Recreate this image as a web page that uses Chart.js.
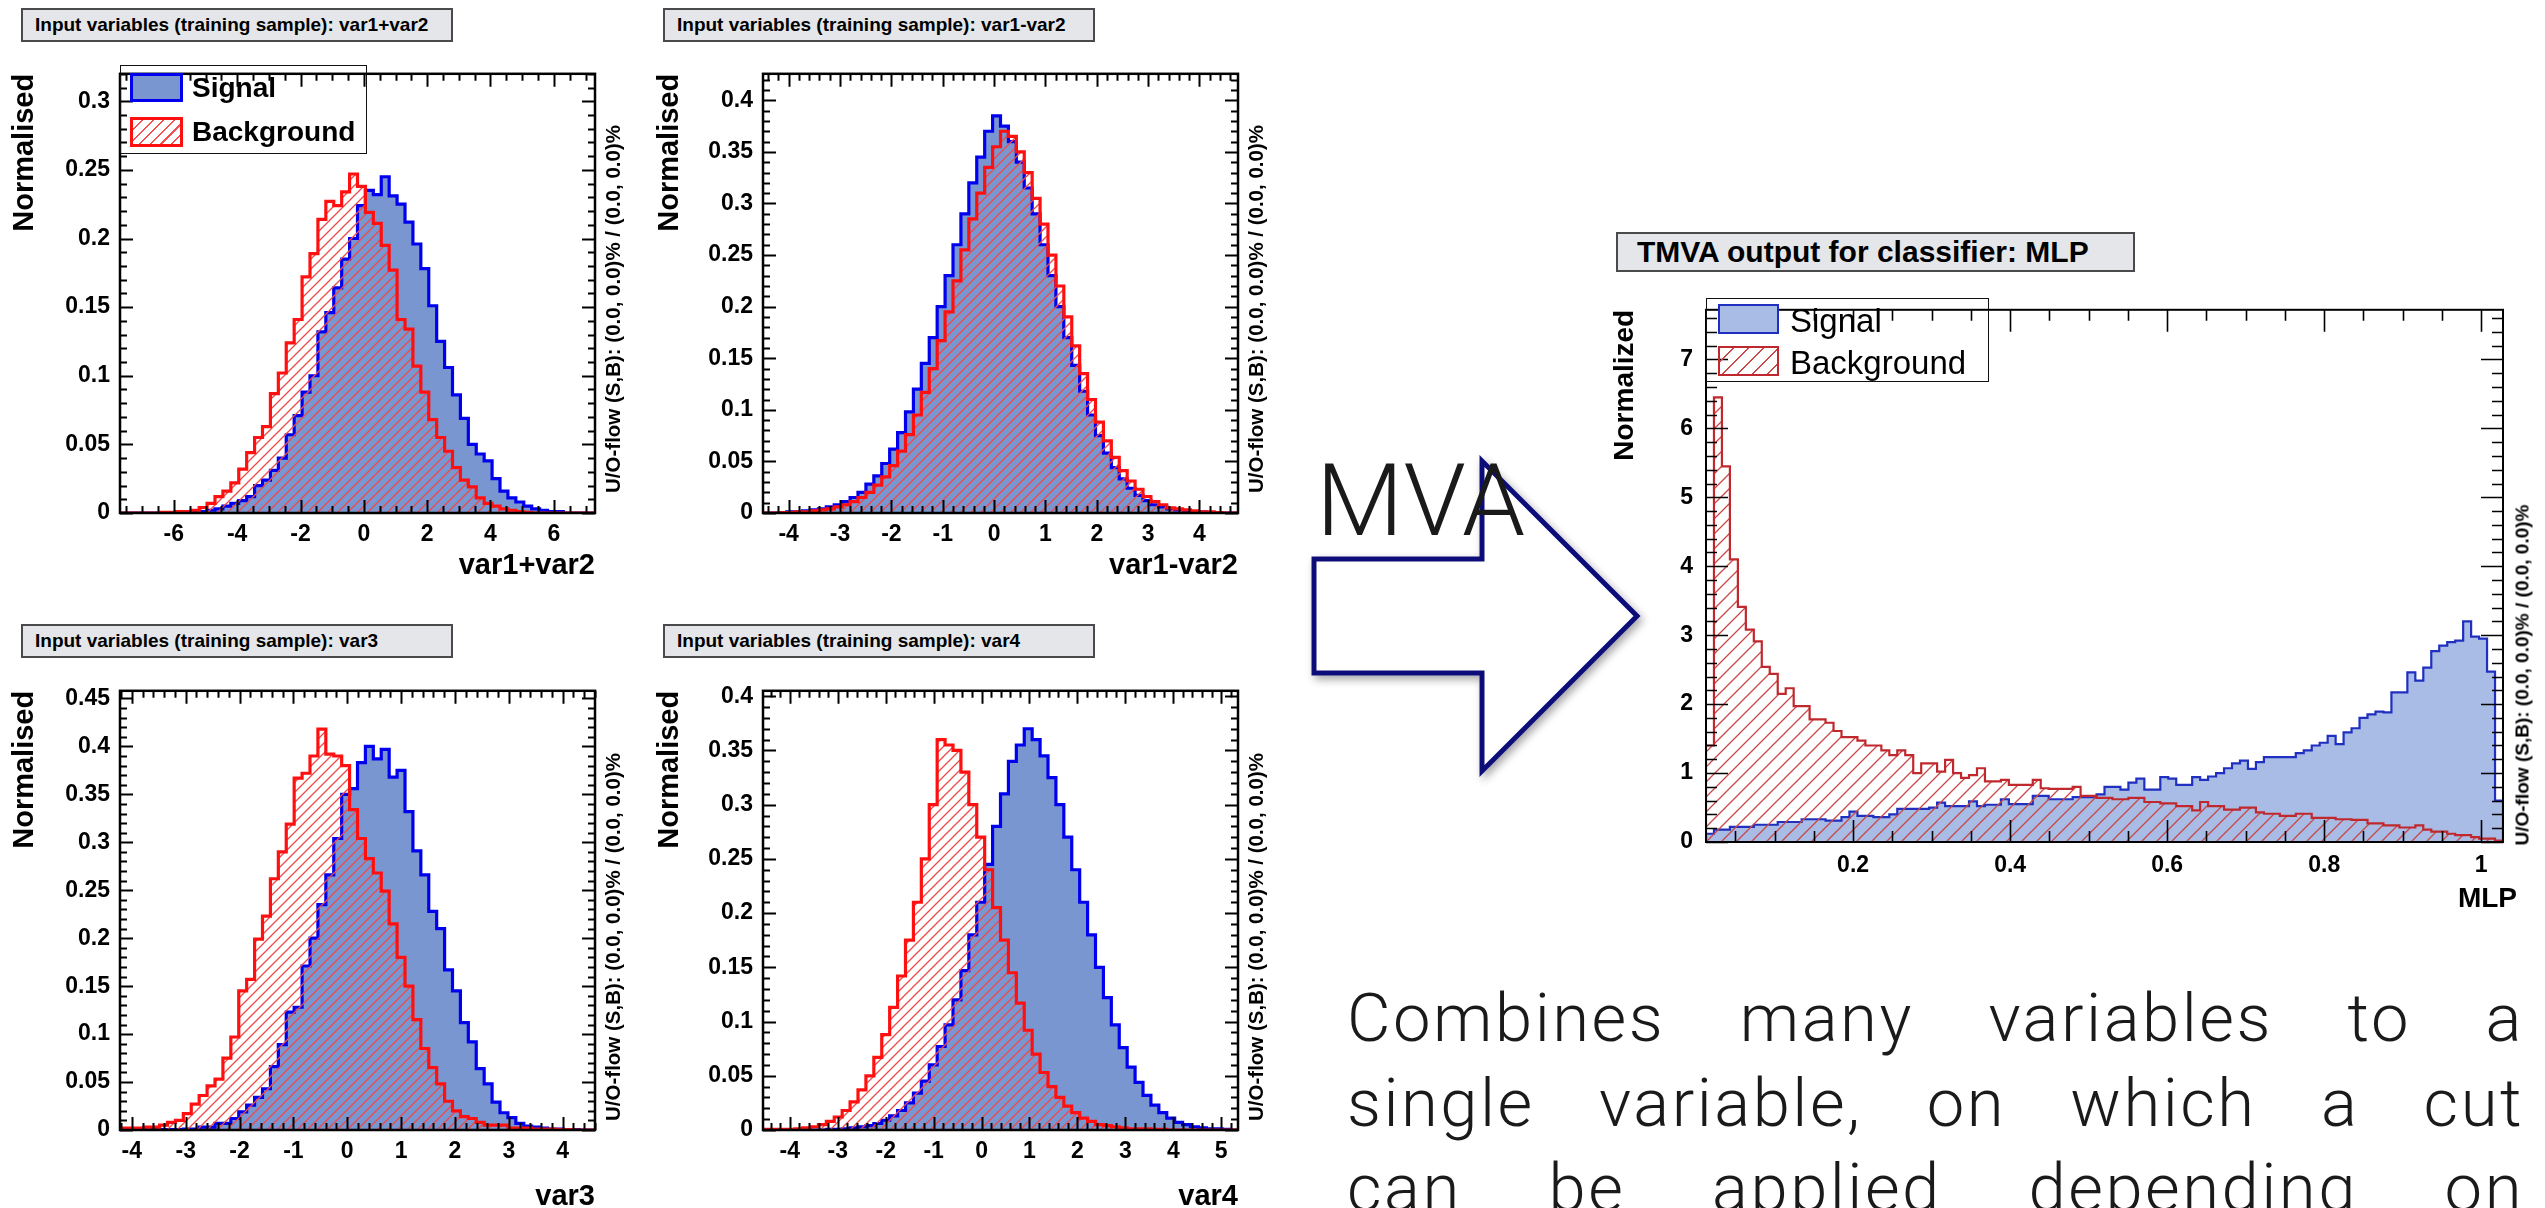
<!DOCTYPE html>
<html><head><meta charset="utf-8">
<script src="https://cdn.jsdelivr.net/npm/chart.js@4.4.1/dist/chart.umd.min.js"></script>
<style>
html,body{margin:0;padding:0;background:#fff;}
#stage{position:relative;width:2545px;height:1208px;overflow:hidden;background:#fff;font-family:'Liberation Sans',Arial,Helvetica,sans-serif;}
canvas{position:absolute;}
.tbox{position:absolute;box-sizing:border-box;background:#e4e6ea;border:2px solid #4a4a4a;font-weight:bold;color:#000;white-space:nowrap;display:flex;align-items:center;}
.leg{position:absolute;box-sizing:border-box;border:1.5px solid #111;}
.sw{position:absolute;box-sizing:border-box;}
.lt{position:absolute;white-space:nowrap;color:#000;line-height:1;}
.rot{position:absolute;white-space:nowrap;font-weight:bold;color:#000;line-height:1;transform-origin:0 0;transform:rotate(-90deg) translate(-50%,-50%);}
.big{position:absolute;white-space:nowrap;color:#1a1a1a;font-family:'Roboto','Lato','Open Sans',sans-serif;font-weight:300;line-height:1;}
.body{position:absolute;left:1347px;width:1177px;color:#1a1a1a;font-family:'Roboto','Lato','Open Sans',sans-serif;font-weight:300;font-size:67px;letter-spacing:2.5px;line-height:1;text-align:justify;text-align-last:justify;white-space:nowrap;}
</style></head>
<body>
<div id="stage">
  <div class="tbox" style="left:21px;top:8px;width:432px;height:34px;font-size:19px;padding-left:12px;">Input variables (training sample): var1+var2</div>
  <div class="tbox" style="left:663px;top:8px;width:432px;height:34px;font-size:19px;padding-left:12px;">Input variables (training sample): var1-var2</div>
  <div class="tbox" style="left:21px;top:624px;width:432px;height:34px;font-size:19px;padding-left:12px;">Input variables (training sample): var3</div>
  <div class="tbox" style="left:663px;top:624px;width:432px;height:34px;font-size:19px;padding-left:12px;">Input variables (training sample): var4</div>
  <div class="tbox" style="left:1616px;top:232px;width:519px;height:40px;font-size:30px;padding-left:19px;">TMVA output for classifier: MLP</div>

  <canvas id="c1" width="640" height="560" style="left:0px;top:50px"></canvas>
  <canvas id="c2" width="640" height="560" style="left:643px;top:50px"></canvas>
  <canvas id="c3" width="640" height="560" style="left:0px;top:667px"></canvas>
  <canvas id="c4" width="640" height="560" style="left:643px;top:667px"></canvas>
  <canvas id="c5" width="985" height="680" style="left:1560px;top:283px"></canvas>

  <div class="rot" style="left:613px;top:309px;font-size:20.5px;">U/O-flow (S,B): (0.0, 0.0)% / (0.0, 0.0)%</div>
  <div class="rot" style="left:1256px;top:309px;font-size:20.5px;">U/O-flow (S,B): (0.0, 0.0)% / (0.0, 0.0)%</div>
  <div class="rot" style="left:613px;top:937px;font-size:20.5px;">U/O-flow (S,B): (0.0, 0.0)% / (0.0, 0.0)%</div>
  <div class="rot" style="left:1256px;top:937px;font-size:20.5px;">U/O-flow (S,B): (0.0, 0.0)% / (0.0, 0.0)%</div>
  <div class="rot" style="left:2522px;top:675px;font-size:19px;">U/O-flow (S,B): (0.0, 0.0)% / (0.0, 0.0)%</div>

  <!-- MLP x-axis title -->
  <div class="lt" style="right:28px;top:884px;font-size:28px;font-weight:bold;">MLP</div>

  <!-- legend panel 1 -->
  <div class="leg" style="left:120px;top:65px;width:247px;height:89px;"></div>
  <div class="sw" style="left:130px;top:73px;width:53px;height:29px;background:#7a96d0;border:3px solid #0000ee;"></div>
  <div class="sw" style="left:130px;top:117px;width:53px;height:30px;border:3px solid #ff1010;background:repeating-linear-gradient(135deg,transparent 0 6px,#f05050 6px 7.5px);"></div>
  <div class="lt" style="left:192px;top:74px;font-size:28px;font-weight:bold;">Signal</div>
  <div class="lt" style="left:192px;top:118px;font-size:28px;font-weight:bold;">Background</div>

  <!-- legend MLP -->
  <div class="leg" style="left:1706px;top:298px;width:283px;height:84px;"></div>
  <div class="sw" style="left:1718px;top:304px;width:61px;height:30px;background:#a8bce6;border:2px solid #1f2fc0;"></div>
  <div class="sw" style="left:1718px;top:346px;width:61px;height:30px;border:2px solid #c0282d;background:repeating-linear-gradient(135deg,transparent 0 9px,#c84848 9px 10.5px);"></div>
  <div class="lt" style="left:1790px;top:304px;font-size:33px;">Signal</div>
  <div class="lt" style="left:1790px;top:346px;font-size:33px;">Background</div>

  <svg style="position:absolute;left:0;top:0;pointer-events:none" width="2545" height="1208">
    <defs><filter id="sh" x="-20%" y="-20%" width="140%" height="140%"><feDropShadow dx="3" dy="4" stdDeviation="4" flood-color="#000" flood-opacity="0.35"/></filter></defs>
    <polygon points="1314,559 1482,559 1482,461 1637,616 1482,771 1482,673 1314,673" fill="#fff" stroke="#10107a" stroke-width="5" stroke-linejoin="miter" filter="url(#sh)"/>
  </svg>
  <div class="big" style="left:1316px;top:450px;font-size:101px;">MVA</div>

  <div class="body" style="top:985px;">Combines many variables to a</div>
  <div class="body" style="top:1070px;">single variable, on which a cut</div>
  <div class="body" style="top:1155px;">can be applied depending on</div>
</div>

<script>
// ================= DATA =================
const var12pRange = [-7.7, 7.3];
const var12pSignal = [
 0,0,0,0,0,0,0,0,0.0005,0.0005,
 0.001,0.002,0.003,0.005,0.007,0.009,0.012,0.020,0.024,0.031,
 0.040,0.057,0.071,0.088,0.100,0.132,0.146,0.164,0.185,0.200,
 0.224,0.235,0.232,0.245,0.231,0.225,0.212,0.196,0.178,0.151,
 0.125,0.106,0.086,0.069,0.050,0.043,0.038,0.025,0.016,0.011,
 0.008,0.005,0.003,0.002,0.001,0.001,0,0,0,0];
const var12pBackground = [
 0,0,0,0,0,0.0005,0.0005,0.001,0.001,0.002,
 0.004,0.007,0.012,0.016,0.022,0.032,0.044,0.055,0.063,0.087,
 0.102,0.124,0.141,0.172,0.189,0.214,0.227,0.224,0.234,0.247,
 0.238,0.219,0.211,0.195,0.177,0.141,0.134,0.107,0.088,0.068,
 0.055,0.045,0.033,0.024,0.019,0.011,0.007,0.005,0.003,0.002,
 0.001,0.0005,0,0,0,0,0,0,0,0];
const var12pXTicks = [-6,-4,-2,0,2,4,6];
const var12pXLabels = ['-6','-4','-2','0','2','4','6'];
const var12pYTicks = [0,0.05,0.1,0.15,0.2,0.25,0.3];
const var12pYLabels = ['0','0.05','0.1','0.15','0.2','0.25','0.3'];

const var12mRange = [-4.5, 4.75];
const var12mSignal = [
 0,0,0.0005,0.001,0.001,0.002,0.003,0.004,0.006,0.008,
 0.011,0.015,0.020,0.028,0.036,0.048,0.062,0.078,0.098,0.120,
 0.145,0.170,0.200,0.230,0.260,0.290,0.320,0.345,0.370,0.385,
 0.375,0.360,0.340,0.315,0.290,0.260,0.230,0.200,0.170,0.143,
 0.118,0.095,0.075,0.058,0.044,0.033,0.024,0.017,0.012,0.008,
 0.006,0.004,0.003,0.002,0.001,0.001,0.0005,0,0,0];
const var12mBackground = [
 0,0,0.0005,0.0005,0.001,0.001,0.002,0.003,0.004,0.006,
 0.008,0.011,0.015,0.020,0.027,0.035,0.046,0.060,0.076,0.095,
 0.117,0.140,0.167,0.195,0.225,0.255,0.285,0.310,0.335,0.355,
 0.370,0.365,0.350,0.330,0.305,0.280,0.250,0.220,0.190,0.162,
 0.135,0.110,0.088,0.070,0.054,0.041,0.031,0.023,0.016,0.011,
 0.008,0.005,0.004,0.003,0.002,0.001,0.001,0.0005,0,0];
const var12mXTicks = [-4,-3,-2,-1,0,1,2,3,4];
const var12mXLabels = ['-4','-3','-2','-1','0','1','2','3','4'];
const var12mYTicks = [0,0.05,0.1,0.15,0.2,0.25,0.3,0.35,0.4];
const var12mYLabels = ['0','0.05','0.1','0.15','0.2','0.25','0.3','0.35','0.4'];

const var3Range = [-4.22, 4.6];
const var3Signal = [
 0,0,0,0.0005,0.0005,0.0005,0.0005,0.0005,0.001,0.001,
 0.003,0.003,0.007,0.007,0.012,0.019,0.026,0.034,0.043,0.066,
 0.089,0.123,0.128,0.171,0.200,0.235,0.266,0.304,0.350,0.356,
 0.383,0.400,0.387,0.397,0.368,0.375,0.332,0.291,0.266,0.228,
 0.210,0.167,0.145,0.112,0.092,0.064,0.048,0.029,0.018,0.013,
 0.007,0.004,0.003,0.002,0.001,0.001,0.0005,0.0005,0,0];
const var3Background = [
 0.002,0.002,0.002,0.003,0.003,0.005,0.008,0.010,0.017,0.027,
 0.036,0.046,0.053,0.075,0.097,0.145,0.157,0.199,0.223,0.262,
 0.290,0.319,0.367,0.372,0.390,0.418,0.392,0.390,0.380,0.334,
 0.304,0.283,0.268,0.249,0.215,0.180,0.150,0.115,0.085,0.065,
 0.048,0.030,0.020,0.014,0.012,0.008,0.005,0.005,0.005,0.002,
 0.002,0.002,0.001,0.001,0.001,0.0005,0.0005,0,0,0];
const var3XTicks = [-4,-3,-2,-1,0,1,2,3,4];
const var3XLabels = ['-4','-3','-2','-1','0','1','2','3','4'];
const var3YTicks = [0,0.05,0.1,0.15,0.2,0.25,0.3,0.35,0.4,0.45];
const var3YLabels = ['0','0.05','0.1','0.15','0.2','0.25','0.3','0.35','0.4','0.45'];

const var4Range = [-4.56, 5.35];
const var4Signal = [
 0,0,0,0,0,0,0,0,0.0005,0.0005,
 0.001,0.002,0.003,0.004,0.006,0.009,0.013,0.018,0.025,0.034,
 0.045,0.060,0.077,0.097,0.120,0.147,0.180,0.210,0.245,0.280,
 0.310,0.340,0.355,0.370,0.360,0.345,0.325,0.300,0.270,0.240,
 0.210,0.180,0.150,0.122,0.097,0.076,0.058,0.044,0.032,0.023,
 0.016,0.011,0.007,0.005,0.003,0.002,0.001,0.001,0.0005,0];
const var4Background = [
 0.0005,0.0005,0.0005,0.0005,0.001,0.002,0.003,0.005,0.008,0.012,
 0.018,0.026,0.037,0.050,0.067,0.088,0.113,0.142,0.175,0.210,
 0.250,0.300,0.360,0.355,0.350,0.330,0.300,0.270,0.240,0.205,
 0.175,0.145,0.117,0.092,0.070,0.053,0.040,0.030,0.022,0.016,
 0.011,0.008,0.005,0.004,0.003,0.002,0.001,0.001,0.001,0.0005,
 0.0005,0,0,0,0,0,0,0,0,0];
const var4XTicks = [-4,-3,-2,-1,0,1,2,3,4,5];
const var4XLabels = ['-4','-3','-2','-1','0','1','2','3','4','5'];
const var4YTicks = [0,0.05,0.1,0.15,0.2,0.25,0.3,0.35,0.4];
const var4YLabels = ['0','0.05','0.1','0.15','0.2','0.25','0.3','0.35','0.4'];

const mlpRange = [0.0127, 1.0277];
const mlpSignal = [
 0.12,0.18,0.18,0.22,0.22,0.22,0.25,0.25,0.25,0.29,
 0.29,0.29,0.33,0.33,0.33,0.31,0.31,0.36,0.44,0.38,
 0.38,0.36,0.36,0.40,0.48,0.48,0.48,0.48,0.50,0.57,
 0.52,0.52,0.52,0.59,0.52,0.54,0.54,0.62,0.55,0.55,
 0.55,0.67,0.67,0.62,0.62,0.62,0.65,0.65,0.65,0.69,
 0.80,0.80,0.76,0.86,0.92,0.76,0.76,0.94,0.92,0.83,
 0.83,0.94,0.90,0.95,1.00,1.07,1.14,1.18,1.06,1.16,
 1.23,1.23,1.23,1.23,1.29,1.33,1.40,1.44,1.54,1.42,
 1.59,1.65,1.80,1.85,1.89,1.88,2.17,2.17,2.46,2.34,
 2.53,2.77,2.85,2.90,2.92,3.20,2.98,2.95,2.47,0.60];
const mlpBackground = [
 1.40,6.45,5.45,4.10,3.41,3.08,2.91,2.54,2.44,2.15,
 2.23,1.97,1.97,1.78,1.78,1.73,1.61,1.52,1.52,1.47,
 1.40,1.40,1.33,1.26,1.33,1.26,1.00,1.14,1.14,1.02,
 1.19,1.00,0.93,0.97,1.07,0.88,0.88,0.90,0.83,0.83,
 0.83,0.90,0.78,0.77,0.77,0.77,0.80,0.67,0.67,0.64,
 0.64,0.62,0.62,0.64,0.64,0.58,0.58,0.56,0.56,0.52,
 0.52,0.46,0.58,0.52,0.52,0.47,0.47,0.50,0.50,0.43,
 0.41,0.41,0.38,0.38,0.41,0.41,0.35,0.35,0.35,0.33,
 0.33,0.32,0.32,0.27,0.27,0.24,0.24,0.21,0.21,0.24,
 0.18,0.15,0.15,0.12,0.10,0.10,0.07,0.05,0.05,0.02];
const mlpXTicks = [0.2,0.4,0.6,0.8,1];
const mlpXLabels = ['0.2','0.4','0.6','0.8','1'];
const mlpYTicks = [0,1,2,3,4,5,6,7];
const mlpYLabels = ['0','1','2','3','4','5','6','7'];

// ================= RENDERING =================
const FONT = "'Liberation Sans', Arial, Helvetica, sans-serif";

function histPoints(range, vals) {
  const n = vals.length, w = (range[1] - range[0]) / n;
  const pts = [{x: range[0], y: 0}];
  vals.forEach((v, i) => pts.push({x: range[0] + i * w, y: v}));
  pts.push({x: range[1], y: vals[n - 1]});
  pts.push({x: range[1], y: 0});
  return pts;
}

function hatch(ctx, color, step, lw) {
  const c = document.createElement('canvas');
  c.width = step; c.height = step;
  const g = c.getContext('2d');
  g.strokeStyle = color; g.lineWidth = lw;
  g.beginPath();
  g.moveTo(-step, 2 * step); g.lineTo(2 * step, -step);
  g.moveTo(-step, step); g.lineTo(step, -step);
  g.moveTo(0, 2 * step); g.lineTo(2 * step, 0);
  g.stroke();
  return ctx.createPattern(c, 'repeat');
}

const rootFrame = {
  id: 'rootFrame',
  afterDatasetsDraw(chart) {
    const o = chart.options.plugins.rootFrame;
    const {ctx, chartArea: a, scales: {x, y}} = chart;
    const isMul = (v, s) => Math.abs(v / s - Math.round(v / s)) < 1e-6;
    const each = (min, max, step, fn) => {
      const n0 = Math.ceil(min / step - 1e-9), n1 = Math.floor(max / step + 1e-9);
      for (let n = n0; n <= n1; n++) fn(n * step);
    };
    ctx.save();
    ctx.strokeStyle = '#000';
    ctx.lineWidth = o.tickW;
    ctx.beginPath();
    each(x.min, x.max, o.xMinor, v => {
      const p = Math.round(x.getPixelForValue(v)) + 0.5;
      const L = isMul(v, o.xMajor) ? o.majorLen : o.minorLen;
      ctx.moveTo(p, a.bottom); ctx.lineTo(p, a.bottom - L);
      ctx.moveTo(p, a.top); ctx.lineTo(p, a.top + L);
    });
    each(y.min, y.max, o.yMinor, v => {
      const p = Math.round(y.getPixelForValue(v)) + 0.5;
      const L = isMul(v, o.yMajor) ? o.majorLen : o.minorLen;
      ctx.moveTo(a.left, p); ctx.lineTo(a.left + L, p);
      ctx.moveTo(a.right, p); ctx.lineTo(a.right - L, p);
    });
    ctx.stroke();
    ctx.lineWidth = o.frameW;
    ctx.strokeRect(a.left, a.top, a.right - a.left, a.bottom - a.top);
    if (o.xTitle) {
      ctx.fillStyle = '#000';
      ctx.font = 'bold ' + o.xTitleSize + 'px ' + FONT;
      ctx.textAlign = 'right';
      ctx.textBaseline = 'middle';
      ctx.fillText(o.xTitle, a.right, a.bottom + o.xTitleDy);
    }
    ctx.restore();
  }
};

function makePanel(id, c) {
  const ctx = document.getElementById(id).getContext('2d');
  c.frame.xTitle = c.xTitle; c.frame.xTitleDy = c.xTitleDy; c.frame.xTitleSize = c.titleSize;
  return new Chart(ctx, {
    type: 'line',
    data: {datasets: [
      {data: histPoints(c.range, c.bkg), stepped: true, borderColor: c.bkgLine, borderWidth: c.lw,
       backgroundColor: hatch(ctx, c.hatchColor, c.hatchStep, c.hatchLw), fill: 'origin',
       pointRadius: 0, borderJoinStyle: 'miter', borderCapStyle: 'butt'},
      {data: histPoints(c.range, c.sig), stepped: true, borderColor: c.sigLine, borderWidth: c.lw,
       backgroundColor: c.sigFill, fill: 'origin', pointRadius: 0, borderJoinStyle: 'miter', borderCapStyle: 'butt'}
    ]},
    options: {
      responsive: false, maintainAspectRatio: false, animation: false,
      layout: {padding: c.pad},
      plugins: {legend: {display: false}, tooltip: {enabled: false}, rootFrame: c.frame},
      scales: {
        x: {type: 'linear', min: c.range[0], max: c.range[1],
            afterBuildTicks: s => { s.ticks = c.xTicks.map(v => ({value: v})); },
            afterFit: s => { s.height = c.xH; },
            grid: {display: false, drawTicks: false}, border: {display: false},
            ticks: {autoSkip: false, maxRotation: 0, minRotation: 0, padding: c.xTickPad, color: '#000',
                    font: {family: FONT, weight: 'bold', size: c.tickSize},
                    callback: (v, i) => c.xLabels[i]},
            title: {display: false}},
        y: {type: 'linear', min: 0, max: c.yMax,
            afterBuildTicks: s => { s.ticks = c.yTicks.map(v => ({value: v})); },
            afterFit: s => { s.width = c.yW; },
            grid: {display: false, drawTicks: false}, border: {display: false},
            ticks: {autoSkip: false, padding: c.yTickPad, color: '#000',
                    font: {family: FONT, weight: 'bold', size: c.tickSize},
                    callback: (v, i) => c.yLabels[i]},
            title: {display: true, text: c.yTitle, align: 'end', color: '#000',
                    font: {family: FONT, weight: 'bold', size: c.titleSize},
                    padding: {top: c.yTitlePad, bottom: 0}}}
      }
    },
    plugins: [rootFrame]
  });
}

const smallStyle = {
  lw: 3.2, sigLine: '#0000ee', sigFill: '#7a96d0', bkgLine: '#ff1010',
  hatchColor: '#ee4a4a', hatchStep: 10, hatchLw: 1.3,
  tickSize: 23, titleSize: 29, yW: 120, yTickPad: 10, xTickPad: 8, yTitle: 'Normalised'
};
const smallFrame = (xMajor, xMinor) => ({xMajor, xMinor, yMajor: 0.05, yMinor: 0.01, majorLen: 13, minorLen: 7, tickW: 2, frameW: 2.5});

makePanel('c1', Object.assign({}, smallStyle, {
  range: var12pRange, sig: var12pSignal, bkg: var12pBackground,
  xTicks: var12pXTicks, xLabels: var12pXLabels, yTicks: var12pYTicks, yLabels: var12pYLabels,
  yMax: 0.32, xTitle: 'var1+var2', pad: {left: 0, top: 15, right: 45, bottom: 0}, xH: 97,
  xTitleDy: 53, yTitlePad: 7.6, frame: smallFrame(2, 0.5)}));
makePanel('c2', Object.assign({}, smallStyle, {
  range: var12mRange, sig: var12mSignal, bkg: var12mBackground,
  xTicks: var12mXTicks, xLabels: var12mXLabels, yTicks: var12mYTicks, yLabels: var12mYLabels,
  yMax: 0.4257, xTitle: 'var1-var2', pad: {left: 0, top: 15, right: 45, bottom: 0}, xH: 97,
  xTitleDy: 53, yTitlePad: 9.6, frame: smallFrame(1, 0.2)}));
makePanel('c3', Object.assign({}, smallStyle, {
  range: var3Range, sig: var3Signal, bkg: var3Background,
  xTicks: var3XTicks, xLabels: var3XLabels, yTicks: var3YTicks, yLabels: var3YLabels,
  yMax: 0.458, xTitle: 'var3', pad: {left: 0, top: 15, right: 45, bottom: 0}, xH: 97,
  xTitleDy: 67, yTitlePad: 7.6, frame: smallFrame(1, 0.2)}));
makePanel('c4', Object.assign({}, smallStyle, {
  range: var4Range, sig: var4Signal, bkg: var4Background,
  xTicks: var4XTicks, xLabels: var4XLabels, yTicks: var4YTicks, yLabels: var4YLabels,
  yMax: 0.405, xTitle: 'var4', pad: {left: 0, top: 15, right: 45, bottom: 0}, xH: 97,
  xTitleDy: 67, yTitlePad: 9.6, frame: smallFrame(1, 0.2)}));
makePanel('c5', {
  range: mlpRange, sig: mlpSignal, bkg: mlpBackground,
  xTicks: mlpXTicks, xLabels: mlpXLabels, yTicks: mlpYTicks, yLabels: mlpYLabels,
  lw: 2.2, sigLine: '#1f2fc0', sigFill: '#a8bce6', bkgLine: '#c0282d',
  hatchColor: '#c84848', hatchStep: 15, hatchLw: 1.3,
  tickSize: 23, titleSize: 28, yW: 146, yTickPad: 13, xTickPad: 10,
  yMax: 7.72, xTitle: '', yTitle: 'Normalized',
  pad: {left: 0, top: 15, right: 42, bottom: 0}, xH: 121, xTitleDy: 0, yTitlePad: 48,
  frame: {xMajor: 0.2, xMinor: 0.05, yMajor: 1, yMinor: 0.2, majorLen: 22, minorLen: 11, tickW: 1.6, frameW: 2}
});
</script>
</body></html>
